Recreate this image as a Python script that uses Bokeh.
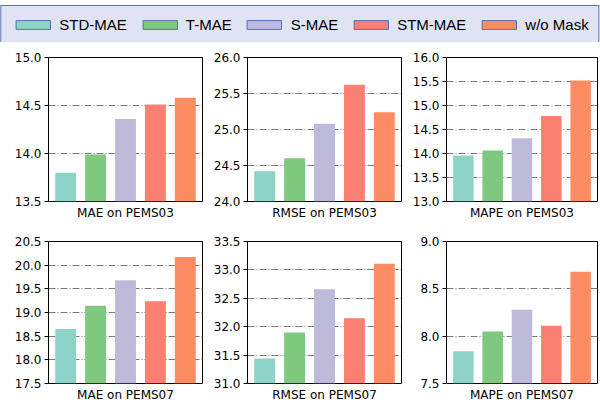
from bokeh.plotting import figure
from bokeh.models import (Range1d, FactorRange, FixedTicker, PrintfTickFormatter,
                          Title, Legend, LegendItem, ColumnDataSource)
from bokeh.layouts import column, row
from bokeh.embed import file_html
from bokeh.resources import INLINE

methods = ["STD-MAE", "T-MAE", "S-MAE", "STM-MAE", "w/o Mask"]
colors = ["#8dd3c7", "#7fc97f", "#bebada", "#fb8072", "#fc8d62"]

mae_pems03 = [13.80, 13.99, 14.36, 14.51, 14.58]
rmse_pems03 = [24.42, 24.60, 25.08, 25.62, 25.24]
mape_pems03 = [13.96, 14.06, 14.32, 14.78, 15.52]
mae_pems07 = [18.65, 19.14, 19.68, 19.24, 20.17]
rmse_pems07 = [31.44, 31.90, 32.66, 32.15, 33.11]
mape_pems07 = [7.84, 8.05, 8.28, 8.11, 8.68]

panel_titles = ["MAE on PEMS03", "RMSE on PEMS03", "MAPE on PEMS03",
                "MAE on PEMS07", "RMSE on PEMS07", "MAPE on PEMS07"]
panel_values = [mae_pems03, rmse_pems03, mape_pems03,
                mae_pems07, rmse_pems07, mape_pems07]
y_limits = [(13.5, 15.0), (24.0, 26.0), (13.0, 16.0),
            (17.5, 20.5), (31.0, 33.5), (7.5, 9.0)]
y_ticks = [[13.5, 14.0, 14.5, 15.0],
           [24.0, 24.5, 25.0, 25.5, 26.0],
           [13.0, 13.5, 14.0, 14.5, 15.0, 15.5, 16.0],
           [17.5, 18.0, 18.5, 19.0, 19.5, 20.0, 20.5],
           [31.0, 31.5, 32.0, 32.5, 33.0, 33.5],
           [7.5, 8.0, 8.5, 9.0]]

FONT = "DejaVu Sans"

# (width, left border, right border) per column
col_geom = [(204, 48, 2), (199, 43, 2), (197, 43, 3)]
# (height, top border, bottom border) per row
row_geom = [(180, 15, 18), (182, 19, 17)]


def panel(i):
    ci, ri = i % 3, i // 3
    w, bl, br = col_geom[ci]
    h, bt, bb = row_geom[ri]
    lo, hi = y_limits[i]
    p = figure(width=w, height=h, x_range=FactorRange(*methods, range_padding=0.03),
               y_range=Range1d(lo, hi), toolbar_location=None, output_backend="svg",
               min_border_left=bl, min_border_right=br, min_border_top=bt,
               min_border_bottom=bb)
    src = ColumnDataSource(dict(method=methods, value=panel_values[i], color=colors))
    p.vbar(x="method", top="value", bottom=0, width=0.7, source=src,
           fill_color="color", line_color=None)
    p.xaxis.visible = False
    p.xgrid.visible = False
    p.ygrid.grid_line_color = "#7a7a7a"
    p.ygrid.grid_line_width = 1
    p.ygrid.grid_line_dash = "7 2 1 2"
    ax = p.yaxis[0]
    ax.ticker = FixedTicker(ticks=y_ticks[i])
    ax.formatter = PrintfTickFormatter(format="%.1f")
    ax.major_tick_out = 4
    ax.major_tick_in = 0
    ax.minor_tick_line_color = None
    ax.major_label_standoff = 3
    ax.major_label_text_font = FONT
    ax.major_label_text_font_size = "12px"
    ax.major_label_text_color = "black"
    ax.axis_line_color = "black"
    ax.major_tick_line_color = "black"
    p.outline_line_color = "black"
    p.outline_line_width = 1
    p.outline_line_alpha = 1
    t = Title(text=panel_titles[i], align="center", text_font=FONT,
              text_font_size="12px", text_font_style="normal",
              text_color="black", standoff=5)
    p.add_layout(t, "below")
    return p


panels = [panel(i) for i in range(6)]

lf = figure(width=600, height=42, x_range=Range1d(0, 1), y_range=Range1d(0, 1),
            x_axis_type=None, y_axis_type=None, toolbar_location=None,
            output_backend="svg", min_border=0)
lf.grid.visible = False
lf.outline_line_color = None
items = []
for m, c in zip(methods, colors):
    r = lf.vbar(x=[5], top=[5], bottom=[4], width=0.1, fill_color=c,
                line_color="#5470b4", line_width=1)
    items.append(LegendItem(label=m, renderers=[r]))
leg = Legend(items=items, orientation="horizontal", location="top_center",
             margin=5, padding=10, spacing=11, glyph_width=43, glyph_height=11,
             label_standoff=5, label_height=12,
             label_text_font="Liberation Sans", label_text_font_size="15px",
             label_text_color="black",
             background_fill_color="#e0e3f3", background_fill_alpha=1,
             border_line_color="#5a74b6", border_line_width=1, border_line_alpha=1)
lf.add_layout(leg, "center")

layout = column(lf, row(*panels[:3]), row(*panels[3:]))

open("out.html", "w").write(file_html(layout, INLINE))
